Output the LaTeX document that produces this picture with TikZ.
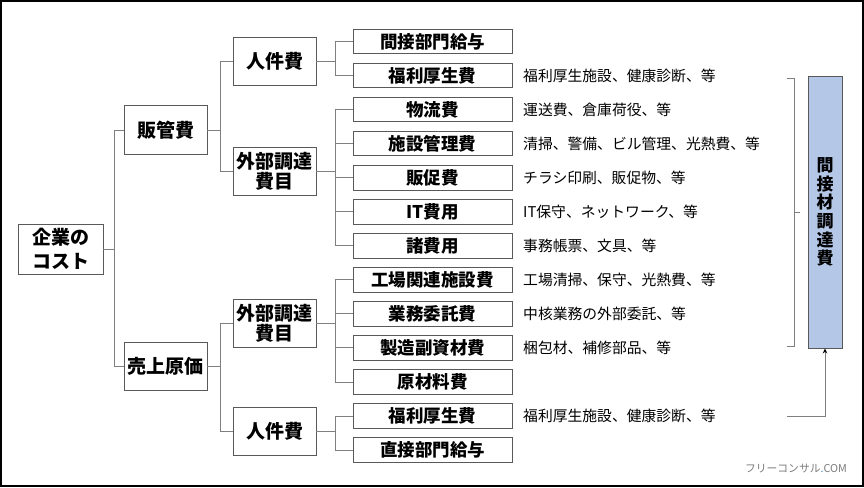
\documentclass[tikz,border=0pt]{standalone}
\usepackage{fontspec}
\setmainfont{Noto Sans CJK JP}
\usetikzlibrary{arrows.meta}
\definecolor{boxline}{HTML}{595959}
\definecolor{connline}{HTML}{7F7F7F}
\definecolor{indfill}{HTML}{B4C7E7}
\definecolor{markgray}{HTML}{7A7A7A}
\definecolor{markblue}{HTML}{3A8FD0}

\begin{document}
\begin{tikzpicture}[x=1pt, y=-1pt]
        \tikzstyle{topbox}=[draw=boxline, line width=0.9pt, inner sep=0pt, minimum width=85pt, minimum height=50pt, align=center, font=\fontsize{19}{24}\selectfont\bfseries]
        \tikzstyle{midbox}=[draw=boxline, line width=0.9pt, inner sep=0pt, minimum width=83pt, minimum height=48.5pt, align=center, font=\fontsize{19}{20}\selectfont\bfseries]
        \tikzstyle{leaf}=[draw=boxline, line width=0.9pt, inner sep=0pt, minimum width=159pt, minimum height=24.5pt, font=\fontsize{17.5}{20}\selectfont\bfseries]
        \tikzstyle{note}=[anchor=west, inner sep=0pt, font=\fontsize{14.8}{18}\selectfont]
        \tikzstyle{conn}=[draw=connline, line width=1pt]

        \useasboundingbox (0,0) rectangle (864,487);
        \draw[line width=1.5pt] (1,1) rectangle (863,486);

        \node (cost)[topbox] at (60.5,249) {企業の\\コスト};
        \node (hankan)[midbox] at (165.5,130) {販管費};
        \node (genka)[midbox] at (165.5,366.5) {売上原価};

        \node (jinken1)[midbox] at (274.5,61.5) {人件費};
        \node (gaibu1)[midbox] at (274.5,171.5) {外部調達\\費目};
        \node (gaibu2)[midbox] at (274.5,323.5) {外部調達\\費目};
        \node (jinken2)[midbox] at (274.5,431.5) {人件費};

        \node (kyuyo1)[leaf] at (432.5,41.5) {間接部門給与};
        \node (fukuri1)[leaf] at (432.5,75.5) {福利厚生費};
        \node (butsuryu)[leaf] at (432.5,109.6) {物流費};
        \node (shisetsu)[leaf] at (432.5,143.6) {施設管理費};
        \node (hansoku)[leaf] at (432.5,177.7) {販促費};
        \node (it)[leaf] at (432.5,211.7) {IT費用};
        \node (shohi)[leaf] at (432.5,245.8) {諸費用};
        \node (kojo)[leaf] at (432.5,279.8) {工場関連施設費};
        \node (itaku)[leaf] at (432.5,313.9) {業務委託費};
        \node (fukushizai)[leaf] at (432.5,347.9) {製造副資材費};
        \node (genzairyo)[leaf] at (432.5,382) {原材料費};
        \node (fukuri2)[leaf] at (432.5,416) {福利厚生費};
        \node (kyuyo2)[leaf] at (432.5,450) {直接部門給与};

        \node (n1)[note] at (523,75.5) {福利厚生施設、健康診断、等};
        \node (n2)[note] at (523,109.6) {運送費、倉庫荷役、等};
        \node (n3)[note] at (523,143.6) {清掃、警備、ビル管理、光熱費、等};
        \node (n4)[note] at (523,177.7) {チラシ印刷、販促物、等};
        \node (n5)[note] at (523,211.7) {IT保守、ネットワーク、等};
        \node (n6)[note] at (523,245.8) {事務帳票、文具、等};
        \node (n7)[note] at (523,279.8) {工場清掃、保守、光熱費、等};
        \node (n8)[note] at (523,313.9) {中核業務の外部委託、等};
        \node (n9)[note] at (523,347.9) {梱包材、補修部品、等};
        \node (n10)[note] at (523,416) {福利厚生施設、健康診断、等};

        \node (indirect)[draw=boxline, line width=0.9pt, fill=indfill, inner sep=0pt, minimum width=34pt, minimum height=272pt, align=center, font=\fontsize{17}{18.6}\selectfont\bfseries] at (825,212) {間\\接\\材\\調\\達\\費};

        \draw[conn] (cost.east) -- ++(11,0) |- (hankan.west);
        \draw[conn] (cost.east) -- ++(11,0) |- (genka.west);

        \draw[conn] (hankan.east) -- ++(13,0) |- (jinken1.west);
        \draw[conn] (hankan.east) -- ++(13,0) |- (gaibu1.west);
        \draw[conn] (genka.east) -- ++(13,0) |- (gaibu2.west);
        \draw[conn] (genka.east) -- ++(13,0) |- (jinken2.west);

        \draw[conn] (jinken1.east) -- ++(19,0) |- (kyuyo1.west);
        \draw[conn] (jinken1.east) -- ++(19,0) |- (fukuri1.west);
        \draw[conn] (gaibu1.east) -- ++(19,0) |- (butsuryu.west);
        \draw[conn] (gaibu1.east) -- ++(19,0) |- (shisetsu.west);
        \draw[conn] (gaibu1.east) -- ++(19,0) |- (hansoku.west);
        \draw[conn] (gaibu1.east) -- ++(19,0) |- (it.west);
        \draw[conn] (gaibu1.east) -- ++(19,0) |- (shohi.west);
        \draw[conn] (gaibu2.east) -- ++(19,0) |- (kojo.west);
        \draw[conn] (gaibu2.east) -- ++(19,0) |- (itaku.west);
        \draw[conn] (gaibu2.east) -- ++(19,0) |- (fukushizai.west);
        \draw[conn] (gaibu2.east) -- ++(19,0) |- (genzairyo.west);
        \draw[conn] (jinken2.east) -- ++(19,0) |- (fukuri2.west);
        \draw[conn] (jinken2.east) -- ++(19,0) |- (kyuyo2.west);

        \draw[conn] (787,78) -- (794,78) -- (794,346) -- (787,346);
        \draw[conn] (794,212) -- (800,212);

        \coordinate (feed) at (787,416);
        \draw[conn, -{Stealth[length=5pt, width=4.5pt, color=black]}] (feed) -| (indirect.south);

        \node (mark)[inner sep=0pt, font=\fontsize{10.8}{12}\selectfont, text=markgray] at (796,469) {フリーコンサル\textcolor{markblue}{.}COM};
    \end{tikzpicture}
\end{document}
